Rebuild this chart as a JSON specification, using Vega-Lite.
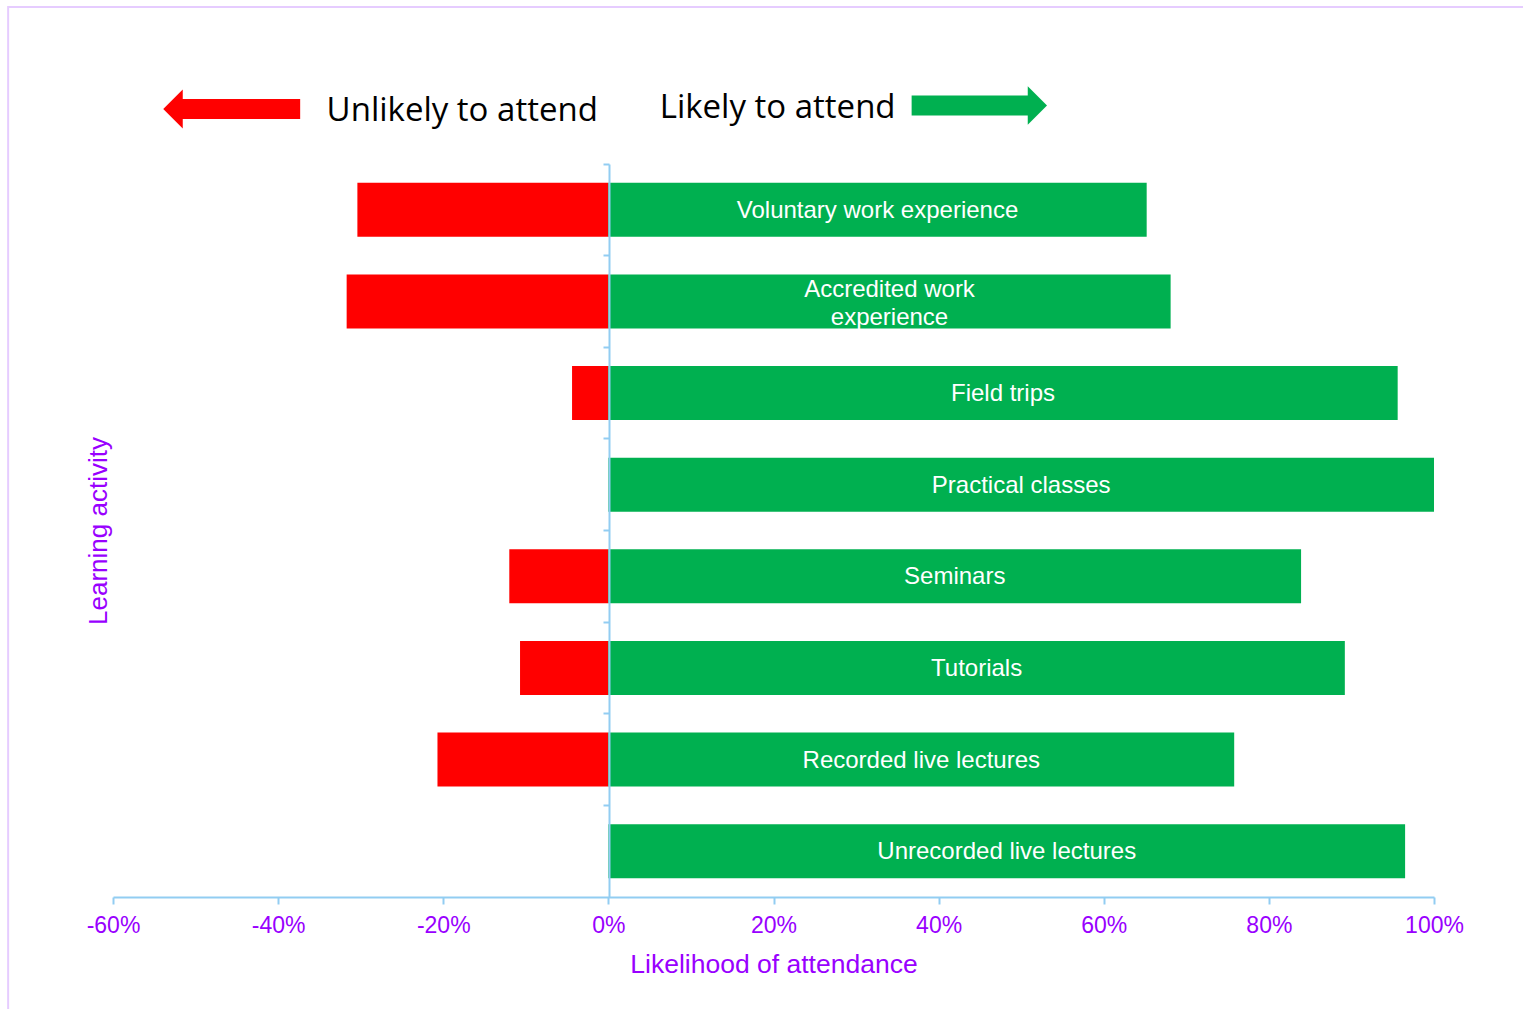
{
  "$schema": "https://vega.github.io/schema/vega-lite/v6.json",
  "width": 1321,
  "height": 733,
  "autosize": {"type": "none"},
  "padding": {"left": 113, "top": 164, "right": 89, "bottom": 112},
  "background": "white",
  "config": {
    "view": {"stroke": null},
    "font": "Liberation Sans",
    "locale": {"number": {"decimal": ".", "thousands": ",", "grouping": [3], "currency": ["$", ""], "minus": "-"}}
  },
  "datasets": {
    "survey": [
      {"activity": "Voluntary work experience", "label": "Voluntary work experience", "unlikely": -0.304, "likely": 0.652},
      {"activity": "Accredited work experience", "label": "Accredited work\nexperience", "unlikely": -0.317, "likely": 0.681},
      {"activity": "Field trips", "label": "Field trips", "unlikely": -0.044, "likely": 0.956},
      {"activity": "Practical classes", "label": "Practical classes", "unlikely": 0, "likely": 1.0},
      {"activity": "Seminars", "label": "Seminars", "unlikely": -0.12, "likely": 0.839},
      {"activity": "Tutorials", "label": "Tutorials", "unlikely": -0.107, "likely": 0.892},
      {"activity": "Recorded live lectures", "label": "Recorded live lectures", "unlikely": -0.207, "likely": 0.758},
      {"activity": "Unrecorded live lectures", "label": "Unrecorded live lectures", "unlikely": 0, "likely": 0.965}
    ]
  },
  "layer": [
    {
      "data": {"name": "survey"},
      "layer": [
        {
          "mark": {"type": "bar", "color": "#FF0000", "height": {"band": 0.59}},
          "encoding": {
            "y": {
              "field": "activity", "type": "nominal", "sort": null,
              "scale": {"paddingInner": 0, "paddingOuter": 0},
              "axis": {
                "title": "Learning activity", "labels": false, "offset": -496, "bandPosition": 0,
                "domainColor": "#92CDF2", "domainWidth": 2, "tickColor": "#92CDF2", "tickWidth": 2, "tickSize": 6,
                "titleColor": "#9900FF", "titleFont": "Liberation Sans", "titleFontSize": 26, "titleFontWeight": "normal",
                "titleX": -498, "grid": false, "zindex": 1
              }
            },
            "x": {
              "field": "unlikely", "type": "quantitative",
              "scale": {"domain": [-0.6, 1], "nice": false, "zero": false},
              "axis": {
                "title": "Likelihood of attendance",
                "values": [-0.6, -0.4, -0.2, 0, 0.2, 0.4, 0.6, 0.8, 1],
                "format": ".0%",
                "domainColor": "#92CDF2", "domainWidth": 2, "tickColor": "#92CDF2", "tickWidth": 2, "tickSize": 7,
                "labelColor": "#9900FF", "labelFont": "Liberation Sans", "labelFontSize": 23, "labelPadding": 10, "labelFlush": false,
                "titleColor": "#9900FF", "titleFont": "Liberation Sans", "titleFontSize": 26.5, "titleFontWeight": "normal", "titlePadding": 14,
                "grid": false, "zindex": 1
              }
            },
            "x2": {"datum": 0}
          }
        },
        {
          "mark": {"type": "bar", "color": "#00B050", "height": {"band": 0.59}},
          "encoding": {
            "y": {"field": "activity", "type": "nominal", "sort": null},
            "x": {"field": "likely", "type": "quantitative", "scale": {"domain": [-0.6, 1], "nice": false, "zero": false}},
            "x2": {"datum": 0}
          }
        },
        {
          "transform": [{"filter": "indexof(datum.label, '\\n') < 0"}, {"calculate": "datum.likely / 2", "as": "mid"}],
          "mark": {"type": "text", "color": "white", "font": "Liberation Sans", "fontSize": 24, "align": "center", "baseline": "middle", "dy": 1},
          "encoding": {
            "y": {"field": "activity", "type": "nominal", "sort": null},
            "x": {"field": "mid", "type": "quantitative", "scale": {"domain": [-0.6, 1], "nice": false, "zero": false}},
            "text": {"field": "label"}
          }
        },
        {
          "transform": [{"filter": "indexof(datum.label, '\\n') >= 0"}, {"calculate": "datum.likely / 2", "as": "mid"}],
          "mark": {"type": "text", "color": "white", "font": "Liberation Sans", "fontSize": 24, "lineBreak": "\n", "lineHeight": 28, "align": "center", "baseline": "middle", "dy": -11},
          "encoding": {
            "y": {"field": "activity", "type": "nominal", "sort": null},
            "x": {"field": "mid", "type": "quantitative", "scale": {"domain": [-0.6, 1], "nice": false, "zero": false}},
            "text": {"field": "label"}
          }
        }
      ]
    },
    {
      "data": {"values": [{"from": -0.727, "to": 1.2, "top": 9.714, "bottom": -2}]},
      "mark": {"type": "rect", "fill": null, "filled": false, "stroke": "#E6CCFF", "strokeWidth": 2},
      "encoding": {
        "x": {"field": "from", "type": "quantitative", "scale": {"domain": [-0.6, 1], "nice": false, "zero": false}},
        "x2": {"field": "to"},
        "y": {"field": "top", "type": "quantitative", "scale": {"domain": [0, 8], "nice": false, "zero": false}, "axis": null},
        "y2": {"field": "bottom"}
      }
    },
    {
      "data": {"values": [
        {"side": "Unlikely", "from": -0.3733, "to": -0.52, "level": 8.6},
        {"side": "Likely", "from": 0.3673, "to": 0.512, "level": 8.638}
      ]},
      "mark": {"type": "rule", "strokeWidth": 20, "strokeCap": "butt"},
      "encoding": {
        "x": {"field": "from", "type": "quantitative", "scale": {"domain": [-0.6, 1], "nice": false, "zero": false}},
        "x2": {"field": "to"},
        "y": {"field": "level", "type": "quantitative", "scale": {"domain": [0, 8], "nice": false, "zero": false}, "axis": null},
        "color": {"field": "side", "type": "nominal", "scale": {"domain": ["Unlikely", "Likely"], "range": ["#FF0000", "#00B050"]}, "legend": null}
      }
    },
    {
      "data": {"values": [{"side": "Unlikely", "tip": -0.5273, "level": 8.6}]},
      "mark": {"type": "point", "shape": "M-0.5,0L0.5,-1L0.5,1Z", "size": 1521, "filled": true, "opacity": 1, "color": "#FF0000", "strokeWidth": 0},
      "encoding": {
        "x": {"field": "tip", "type": "quantitative", "scale": {"domain": [-0.6, 1], "nice": false, "zero": false}},
        "y": {"field": "level", "type": "quantitative", "scale": {"domain": [0, 8], "nice": false, "zero": false}, "axis": null}
      }
    },
    {
      "data": {"values": [{"side": "Likely", "tip": 0.5196, "level": 8.638}]},
      "mark": {"type": "point", "shape": "M0.5,0L-0.5,-1L-0.5,1Z", "size": 1482, "filled": true, "opacity": 1, "color": "#00B050", "strokeWidth": 0},
      "encoding": {
        "x": {"field": "tip", "type": "quantitative", "scale": {"domain": [-0.6, 1], "nice": false, "zero": false}},
        "y": {"field": "level", "type": "quantitative", "scale": {"domain": [0, 8], "nice": false, "zero": false}, "axis": null}
      }
    },
    {
      "data": {"values": [
        {"label": "Unlikely to attend", "at": -0.177, "level": 8.473},
        {"label": "Likely to attend", "at": 0.205, "level": 8.499}
      ]},
      "mark": {"type": "text", "font": "Open Sans", "fontSize": 33, "color": "black", "align": "center", "baseline": "alphabetic"},
      "encoding": {
        "x": {"field": "at", "type": "quantitative", "scale": {"domain": [-0.6, 1], "nice": false, "zero": false}},
        "y": {"field": "level", "type": "quantitative", "scale": {"domain": [0, 8], "nice": false, "zero": false}, "axis": null},
        "text": {"field": "label"}
      }
    }
  ],
  "resolve": {"scale": {"y": "independent", "color": "independent"}}
}
